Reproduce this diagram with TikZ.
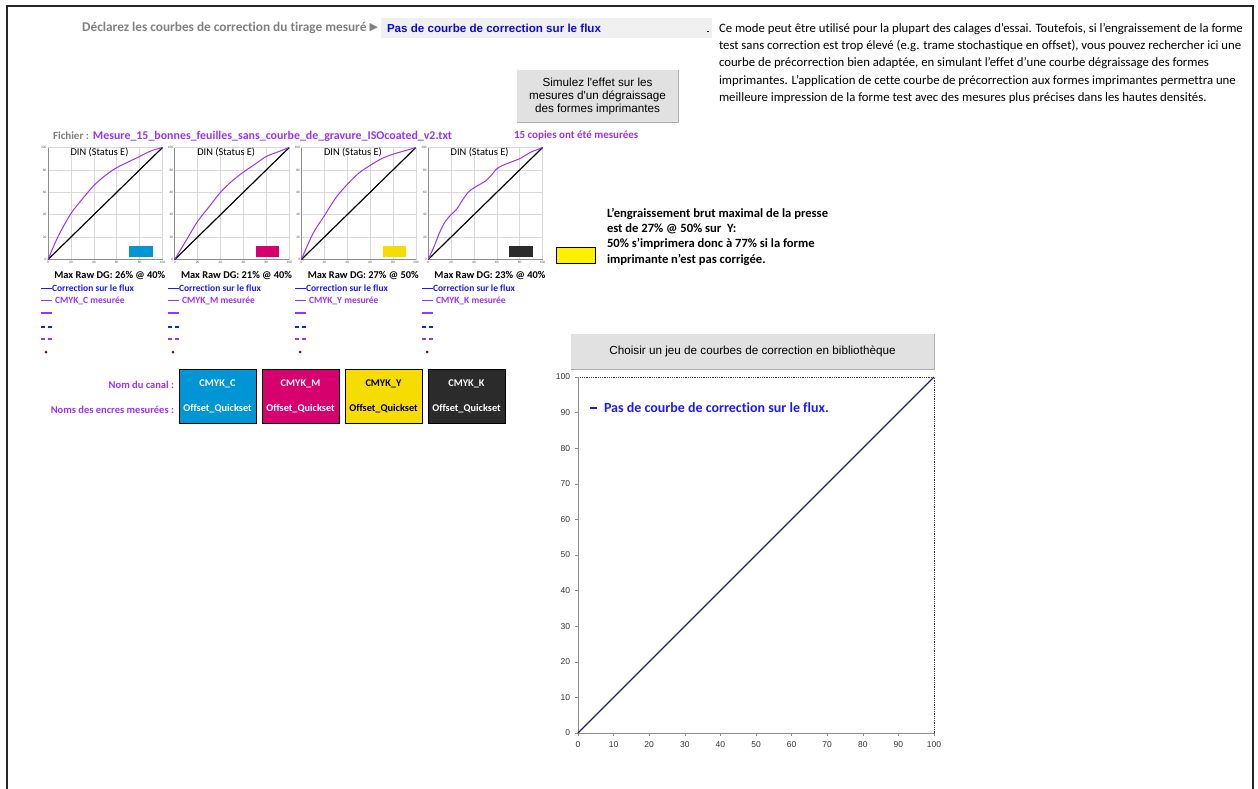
\documentclass[tikz,border=0pt]{standalone}
\usepackage{fontspec}
\setmainfont{Carlito}[Ligatures={TeX,NoCommon}]
\newfontfamily\arialfont{Liberation Sans}
\newfontfamily\symbfont{DejaVu Sans}
\usetikzlibrary{positioning}
\definecolor{TextGray}{HTML}{808080}
\definecolor{MesPurple}{HTML}{9933FF}
\definecolor{FluxBlue}{HTML}{1A1AFF}
\definecolor{DropBlue}{HTML}{0A0AE6}
\definecolor{DiagNavy}{HTML}{1A1A8C}
\definecolor{GridGray}{HTML}{D9D9D9}
\definecolor{AxisGray}{HTML}{8C8C8C}
\definecolor{BtnGray}{HTML}{E1E1E1}
\definecolor{BtnEdge}{HTML}{ADADAD}
\definecolor{DropGray}{HTML}{F0F0F0}
\definecolor{DotRed}{HTML}{8B0000}
\definecolor{InkC}{HTML}{0096D6}
\definecolor{InkM}{HTML}{D6006F}
\definecolor{InkY}{HTML}{F7DC00}
\definecolor{InkK}{HTML}{2B2B2B}
\definecolor{WarnYellow}{HTML}{FFF000}
\begin{document}
\begin{tikzpicture}[x=1pt, y=-1pt, inner sep=0pt, outer sep=0pt,
    hdr/.style={font=\fontsize{13.3}{16}\selectfont\bfseries, text=TextGray},
    info/.style={font=\fontsize{12.75}{17.2}\selectfont, align=left},
    btn/.style={fill=BtnGray, align=center, font=\arialfont\fontsize{11.7}{13}\selectfont},
    file/.style={font=\fontsize{11}{13}\selectfont\bfseries},
    ttl/.style={font=\fontsize{10.4}{12}\selectfont},
    tk/.style={font=\fontsize{3.5}{4}\selectfont, text=black!70},
    dgl/.style={font=\fontsize{10.4}{12}\selectfont\bfseries},
    leg/.style={font=\fontsize{9.5}{11}\selectfont\bfseries, anchor=west},
    chan/.style={draw=black, line width=0.8pt, minimum width=77pt, minimum height=54pt, align=center,
                 font=\fontsize{10.3}{25}\selectfont\bfseries, text=white},
    lab/.style={font=\fontsize{10.5}{12}\selectfont\bfseries, text=MesPurple, anchor=east},
    meas/.style={MesPurple, line width=1pt, line join=round},
    diag/.style={black, line width=1.2pt},
    bigtk/.style={font=\arialfont\fontsize{8.5}{10}\selectfont, text=black!80},
  ]
  \useasboundingbox (0,0) rectangle (1258,789);
  % cadre
  \draw[black!85, line width=1.5pt] (7,789) -- (7,6) -- (1253,6) -- (1253,789);

  % liste deroulante du haut
  \node[fill=DropGray, minimum width=331pt, minimum height=20pt] (dd) at (546.5,28) {};
  \node[anchor=west, font=\arialfont\fontsize{11.6}{13}\selectfont\bfseries, text=DropBlue]
    (flux) at ([xshift=6pt]dd.west) {Pas de courbe de correction sur le flux};
  \draw[line width=0.7pt] ([xshift=-5pt,yshift=-3pt]dd.east) -- ++(2,0);
  \node[hdr, font=\symbfont\fontsize{11}{12}\selectfont, left=3pt of dd] (arr) {▶};
  \node[hdr, left=3pt of arr] (decl) {Déclarez les courbes de correction du tirage mesuré};

  % texte d'aide
  \node[info, anchor=north west] (aide) at (719,23.5) {Ce mode peut être utilisé pour la plupart des calages d'essai. Toutefois, si l'engraissement de la forme\\
    test sans correction est trop élevé (e.g. trame stochastique en offset), vous pouvez rechercher ici une\\
    courbe de précorrection bien adaptée, en simulant l’effet d’une courbe dégraissage des formes\\
    imprimantes. L’application de cette courbe de précorrection aux formes imprimantes permettra une\\
    meilleure impression de la forme test avec des mesures plus précises dans les hautes densités.};

  % bouton simulation
  \node[btn, minimum width=161pt, minimum height=53pt] (sim) at (597.5,96.5)
    {Simulez l'effet sur les\\mesures d'un dégraissage\\des formes imprimantes};
  \draw[BtnEdge, line width=1pt] (sim.north east) -- (sim.south east) -- (sim.south west);

  % fichier mesure
  \node[file, text=TextGray, anchor=west] (fich) at (53,136) {Fichier :};
  \node[file, font=\fontsize{11.9}{13}\selectfont\bfseries, text=MesPurple, right=4pt of fich] (fname) {Mesure\_15\_bonnes\_feuilles\_sans\_courbe\_de\_gravure\_ISOcoated\_v2.txt};
  \node[file, text=MesPurple, anchor=west] (copies) at (514,136) {15 copies ont été mesurées};

  % quatre petits graphiques
  \foreach \i/\col/\nm/\dg in {0/InkC/C/{26\% @ 40\%}, 1/InkM/M/{21\% @ 40\%},
                               2/InkY/Y/{27\% @ 50\%}, 3/InkK/K/{23\% @ 40\%}} {
    \begin{scope}[shift={(48+126.7*\i,259.5)}, x=1.145pt, y=1.12pt]
      \foreach \g in {20,40,...,100} {
        \draw[GridGray, line width=0.5pt] (\g,0) -- (\g,100);
        \draw[GridGray, line width=0.5pt] (0,\g) -- (100,\g);
      }
      \draw[AxisGray, line width=0.6pt] (0,100) -- (0,0) -- (100,0);
      \foreach \g in {0,20,...,100} {
        \node[tk, anchor=east] at ([xshift=-1.5pt]0,\g) {\g};
        \node[tk, anchor=north] at ([yshift=-1.5pt]\g,0) {\g};
      }
      \node[ttl] (din\i) at (45,96) {DIN (Status E)};
      \fill[\col] (71,2.5) rectangle (91.5,12);
      \draw[diag] (0,0) -- (100,100);
      \ifcase\i
        \draw[meas] plot[smooth, tension=0.5] coordinates {(0,0) (5,12) (10,23) (20,41) (30,54) (40,66) (50,75) (60,82) (70,87) (80,92) (90,97) (100,100)};
      \or
        \draw[meas] plot[smooth, tension=0.5] coordinates {(0,0) (10,17) (20,34) (30,47) (40,60) (50,70) (60,78) (70,85) (80,92) (90,96) (100,100)};
      \or
        \draw[meas] plot[smooth, tension=0.5] coordinates {(0,0) (10,23) (20,39) (30,55) (40,67) (50,77) (60,84) (70,90) (80,94) (90,97) (100,100)};
      \or
        \draw[meas] plot[smooth, tension=0.5] coordinates {(0,0) (5,11) (10,24) (15,34) (20,40) (25,45) (30,53) (35,60) (40,64) (45,67) (50,70) (55,75) (60,81) (65,84) (70,86) (75,88) (80,90) (85,93) (90,96) (95,98) (100,100)};
      \fi
      \node[dgl] (dg\i) at (54,-14) {Max Raw DG: \dg};
    \end{scope}
    % legende
    \node[leg, text=FluxBlue] (corr\i) at (52+127*\i,288.5) {Correction sur le flux};
    \draw[FluxBlue, line width=1.6pt] ([xshift=-11pt]corr\i.west) -- (corr\i.west);
    \node[leg, text=MesPurple] (mes\i) at (55+127*\i,300.5) {CMYK\_\nm\ mesurée};
    \draw[MesPurple, line width=0.9pt] ([xshift=-14pt]mes\i.west) -- ++(11,0);
    \draw[MesPurple, line width=2.2pt] (41+127*\i,313) -- ++(11,0);
    \draw[FluxBlue, line width=1.3pt, dash pattern=on 4pt off 3pt] (41+127*\i,327) -- ++(11,0);
    \draw[MesPurple, line width=1.3pt, dash pattern=on 4pt off 3pt] (41+127*\i,339) -- ++(11,0);
    \fill[DotRed] (46+127*\i,352) circle (1.5pt);
  }

  % canaux
  \node[chan, fill=InkC] (bc) at (217.5,396) {CMYK\_C\\Offset\_Quickset};
  \node[chan, fill=InkM, right=6pt of bc] (bm) {CMYK\_M\\Offset\_Quickset};
  \node[chan, fill=InkY, text=black, right=6pt of bm] (by) {CMYK\_Y\\Offset\_Quickset};
  \node[chan, fill=InkK, right=6pt of by] (bk) {CMYK\_K\\Offset\_Quickset};
  \node[lab] (canal) at (174,385) {Nom du canal :};
  \node[lab] (encres) at (174,410) {Noms des encres mesurées :};

  % engraissement maximal
  \node[draw=black, line width=0.8pt, fill=WarnYellow, minimum width=39pt, minimum height=16pt] (ysw) at (575.5,255) {};
  \node[anchor=north west, align=left, font=\fontsize{12.6}{15.3}\selectfont\bfseries] (warn) at (607,208)
    {L'engraissement brut maximal de la presse\\est de 27\% @ 50\% sur~ Y:\\50\% s'imprimera donc à 77\% si la forme\\imprimante n'est pas corrigée.};

  % bouton bibliotheque
  \node[btn, minimum width=363pt, minimum height=35pt] (bib) at (752.5,351.5)
    {Choisir un jeu de courbes de correction en bibliothèque};
  \draw[BtnEdge, line width=1pt] (bib.north east) -- (bib.south east) -- (bib.south west);

  % grand graphique
  \begin{scope}[shift={(578,733)}, x=3.56pt, y=3.56pt]
    \draw[black!75, densely dotted, line width=0.8pt] (0,0) rectangle (100,100);
    \draw[AxisGray, line width=0.8pt] (0,100) -- (0,0) -- (100,0);
    \foreach \v in {0,10,...,100} {
      \draw[AxisGray, line width=0.6pt] (0,\v) -- ([xshift=-3pt]0,\v);
      \draw[AxisGray, line width=0.6pt] (\v,0) -- ([yshift=-3pt]\v,0);
      \node[bigtk, anchor=east] at ([xshift=-8pt]0,\v) {\v};
      \node[bigtk, anchor=north] at ([yshift=-9pt]\v,0) {\v};
    }
    \draw[DiagNavy, line width=1.1pt] (0,0) -- (100,100);
  \end{scope}
  \node[anchor=west, font=\fontsize{14}{16}\selectfont\bfseries, text=FluxBlue] (pasleg) at (604,408)
    {Pas de courbe de correction sur le flux.};
  \draw[FluxBlue, line width=1.2pt] ([xshift=-14pt]pasleg.west) -- ++(7,0);
\end{tikzpicture}
\end{document}
